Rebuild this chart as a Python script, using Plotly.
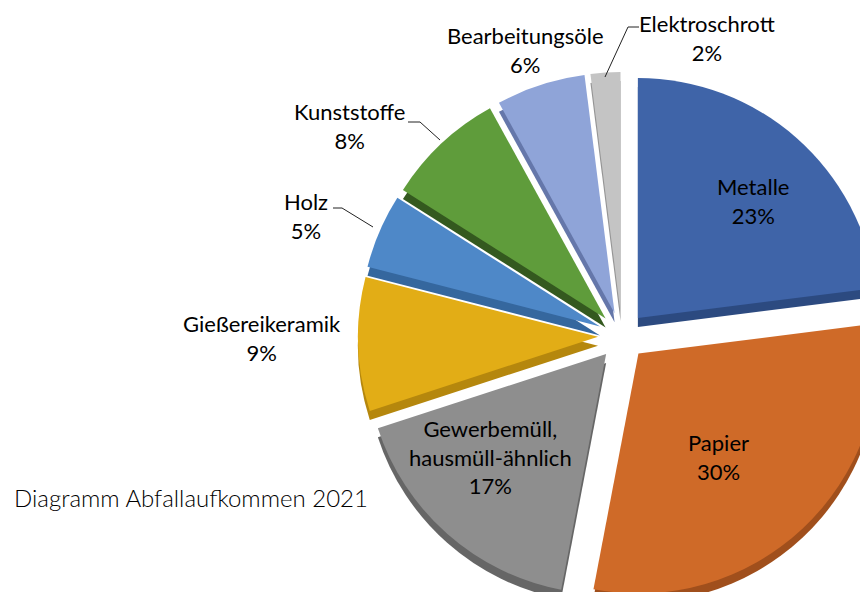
import plotly.graph_objects as go

# ---------------- data ----------------
categories = ["Metalle", "Papier", "Gewerbemüll,<br>hausmüll-ähnlich", "Gießereikeramik",
              "Holz", "Kunststoffe", "Bearbeitungsöle", "Elektroschrott"]
values = [23, 30, 17, 9, 5, 8, 6, 2]
title_text = "Diagramm Abfallaufkommen 2021"

# ---------------- styles ----------------
top_colors = ["#3F64A8", "#CF6A28", "#8E8E8E", "#E2AD16", "#4E88C8", "#5F9C3B", "#8FA4D8", "#C4C4C4"]
side_colors = ["#2C4A80", "#A04F1C", "#666666", "#B5870D", "#35679E", "#34591F", "#6577AA", "#959595"]
pull_frac = 0.1

# page geometry (screen pixels); page has an 8px body margin
W, H, M = 900, 620, 8
CX, CY, R = 622, 336, 240      # pie centre / radius on screen
DEPTH = 9                       # 3-D thickness

# label block centres on screen (layout only)
label_pos = [(753, 201), (718, 457), (490, 457), (262, 338),
             (306, 216), (349, 126), (525, 50), (707, 38)]
leaders = {
    4: [(333, 208), (342, 208), (373, 227)],
    5: [(408, 122), (420, 122), (440, 140)],
    7: [(639, 27), (628, 27), (605, 77)],
}
FONT = "Lato"


def to_paper(X, Y):
    return (X - M) / W, 1 - (Y - M) / H


def domain_for(cy):
    half = R * (1 + pull_frac)
    x0, y1 = to_paper(CX - half, cy - half)
    x1, y0 = to_paper(CX + half, cy + half)
    return dict(x=[x0, x1], y=[y0, y1])


fig = go.Figure()
for cols, cy in ((side_colors, CY + DEPTH), (top_colors, CY)):
    fig.add_trace(go.Pie(
        labels=categories, values=values, sort=False,
        direction="clockwise", rotation=0,
        pull=[pull_frac] * len(values),
        marker=dict(colors=cols, line=dict(width=0)),
        textinfo="none", showlegend=False, hoverinfo="label+percent",
        domain=domain_for(cy),
    ))

total = sum(values)
for i, (lab, v) in enumerate(zip(categories, values)):
    X, Y = label_pos[i]
    px, py = to_paper(X, Y)
    fig.add_annotation(
        text=f"{lab}<br>{round(100 * v / total)}%", x=px, y=py,
        xref="paper", yref="paper", xanchor="center", yanchor="middle",
        showarrow=False, align="center",
        font=dict(family=FONT, size=22, color="black"),
    )

for pts in leaders.values():
    path = "M " + " L ".join(f"{to_paper(x, y)[0]} {to_paper(x, y)[1]}" for x, y in pts)
    fig.add_shape(type="path", path=path, xref="paper", yref="paper",
                  line=dict(color="#222", width=1))

tx, ty = to_paper(12, 497)
fig.add_annotation(
    text=title_text, xref="paper", yref="paper", x=tx, y=ty,
    xanchor="left", yanchor="middle", showarrow=False,
    font=dict(family=FONT, size=24, color="#000000", weight=300),
)

fig.update_layout(
    width=W, height=H,
    margin=dict(l=0, r=0, t=0, b=0),
    paper_bgcolor="white", plot_bgcolor="white",
)

fig.write_html("out.html")
